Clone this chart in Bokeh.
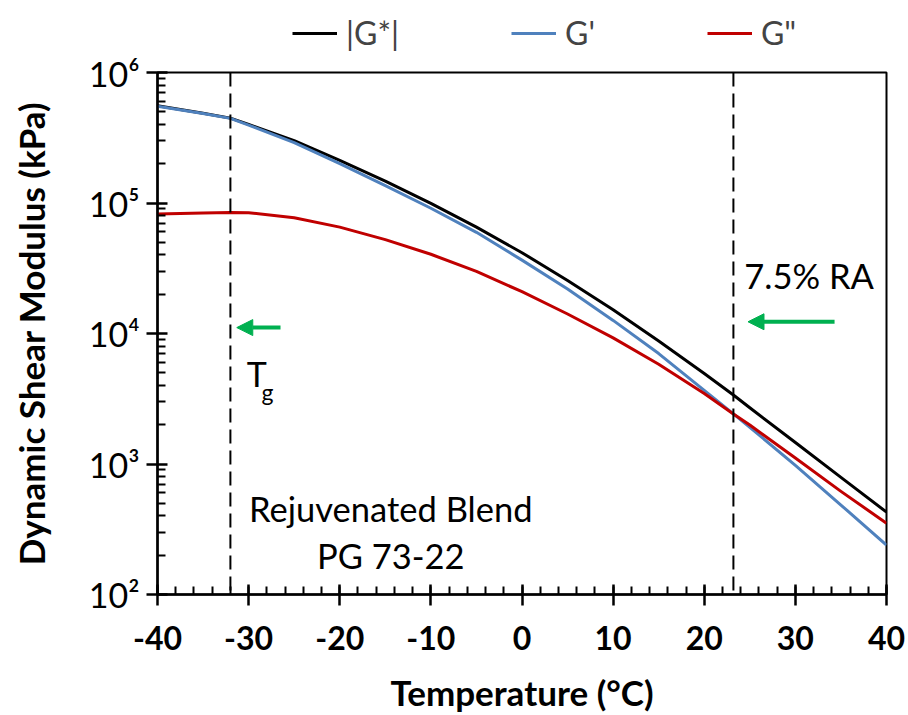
from bokeh.plotting import figure
from bokeh.layouts import column
from bokeh.models import (Legend, LegendItem, Span, Arrow, NormalHead, Label,
                          FixedTicker, Range1d)
from bokeh.embed import file_html
from bokeh.resources import INLINE

# ---- data ----
temperature = [-40, -35, -32, -30, -25, -20, -15, -10, -5, 0, 5, 10, 15, 20, 23.2, 25, 30, 35, 40]
g_star = [556000, 488000, 447000, 400000, 300000, 212000, 147000, 99300, 65300, 41600,
          25500, 15200, 8770, 4930, 3380, 2700, 1460, 789, 428]
g_storage = [552000, 485000, 445000, 395000, 290000, 200000, 136000, 91200, 59600, 36500,
             21900, 12600, 7020, 3670, 2420, 1910, 977, 485, 239]
g_loss = [82400, 83800, 84700, 84300, 77100, 65300, 52400, 40500, 29900, 20900,
          14100, 9250, 5820, 3470, 2420, 1990, 1110, 617, 352]

series_labels = ["|G*|", "G'", 'G"']
series_colors = ["#000000", "#4F81BD", "#C00000"]

x_ticks = [-40, -30, -20, -10, 0, 10, 20, 30, 40]
x_tick_labels = ["-40", "-30", "-20", "-10", "0", "10", "20", "30", "40"]
y_ticks = [1e2, 1e3, 1e4, 1e5, 1e6]
y_tick_labels = ["10\u00b2", "10\u00b3", "10\u2074", "10\u2075", "10\u2076"]

tg_temp = -32.0
ra_temp = 23.2

# annotation positions (data units)
ra_arrow = (34.3, 24.8, 1.23e4)
tg_arrow = (-26.5, -31.3, 1.11e4)

FONT = "Lato"

p = figure(width=908, height=663, y_axis_type="log",
           x_range=Range1d(-40, 40), y_range=Range1d(1e2, 1e6),
           output_backend="svg", toolbar_location=None,
           min_border_left=157, min_border_right=22,
           min_border_top=20, min_border_bottom=121)

renderers = []
for ys, c in zip([g_star, g_storage, g_loss], series_colors):
    r = p.line(temperature, ys, line_color=c, line_width=3, line_join="round")
    renderers.append(r)

# vertical dashed lines
for t in [tg_temp, ra_temp]:
    p.add_layout(Span(location=t, dimension="height", line_color="black",
                      line_width=2, line_dash="14 7"))

# arrows
green = "#00B050"
for (x0, x1, yv) in [ra_arrow, tg_arrow]:
    p.add_layout(Arrow(x_start=x0, x_end=x1, y_start=yv, y_end=yv,
                       line_color=green, line_width=4,
                       end=NormalHead(size=16, fill_color=green, line_color=green)))

# labels
def lab(x, y, text, size, align="left"):
    p.add_layout(Label(x=x, y=y, text=text, text_font=FONT, text_color="black",
                       text_font_size=size, text_baseline="middle", text_align=align))

lab(24.4, 2.77e4, "7.5% RA", "34.5px")
lab(-30.2, 4980, "T", "34px")
lab(-28.6, 3550, "g", "23px")
lab(-14.4, 456, "Rejuvenated Blend", "34.5px", "center")
lab(-14.4, 199, "PG 73-22", "34.5px", "center")

# axes
p.xgrid.visible = False
p.ygrid.visible = False
p.outline_line_color = "black"
p.outline_line_width = 2

p.xaxis.ticker = FixedTicker(ticks=x_ticks, minor_ticks=list(range(-40, 41, 2)))
p.xaxis.major_label_overrides = {t: l for t, l in zip(x_ticks, x_tick_labels)}
p.yaxis.ticker = FixedTicker(ticks=y_ticks,
                             minor_ticks=[k * 10 ** e for e in range(2, 6) for k in range(2, 10)])
p.yaxis.major_label_overrides = {t: l for t, l in zip(y_ticks, y_tick_labels)}

for ax in (p.xaxis, p.yaxis):
    ax.axis_line_width = 2.5
    ax.axis_line_color = "black"
    ax.major_tick_line_width = 2.5
    ax.minor_tick_line_width = 2
    ax.major_tick_line_color = "black"
    ax.minor_tick_line_color = "black"
    ax.major_tick_in = 10
    ax.major_tick_out = 11
    ax.minor_tick_in = 8
    ax.minor_tick_out = 0
    ax.major_label_text_font = FONT
    ax.major_label_text_color = "black"
    ax.axis_label_text_font = FONT
    ax.axis_label_text_font_style = "bold"
    ax.axis_label_text_color = "black"

p.xaxis.major_label_text_font_style = "bold"
p.xaxis.major_label_text_font_size = "32px"
p.xaxis.major_label_standoff = 20
p.xaxis.axis_label = "Temperature (\u00b0C)"
p.xaxis.axis_label_text_font_size = "35px"
p.xaxis.axis_label_standoff = 18

p.yaxis.major_label_text_font_size = "34px"
p.yaxis.major_label_standoff = 7
p.yaxis.axis_label = "Dynamic Shear Modulus (kPa)"
p.yaxis.axis_label_text_font_size = "35px"
p.yaxis.axis_label_standoff = 34

# legend strip above the plot (its frame is aligned with the main frame)
lg = figure(width=908, height=52, x_range=Range1d(1000, 1001), y_range=Range1d(1000, 1001),
            output_backend="svg", toolbar_location=None,
            x_axis_location=None, y_axis_location=None,
            min_border_left=0, min_border_right=0, min_border_top=0, min_border_bottom=0)
lg.xgrid.visible = False
lg.ygrid.visible = False
lg.outline_line_color = None
leg_renderers = [lg.line(temperature, ys, line_color=c, line_width=3)
                 for ys, c in zip([g_star, g_storage, g_loss], series_colors)]
legend = Legend(items=[LegendItem(label=l, renderers=[r]) for l, r in zip(series_labels, leg_renderers)],
                orientation="horizontal", location=(135, 0),
                glyph_width=45, glyph_height=20, label_standoff=9, spacing=112,
                padding=0, margin=0, border_line_alpha=0, background_fill_alpha=0,
                label_text_font=FONT, label_text_font_size="32px")
lg.add_layout(legend)

layout = column(lg, p, spacing=0)
open("out.html", "w").write(file_html(layout, INLINE))
